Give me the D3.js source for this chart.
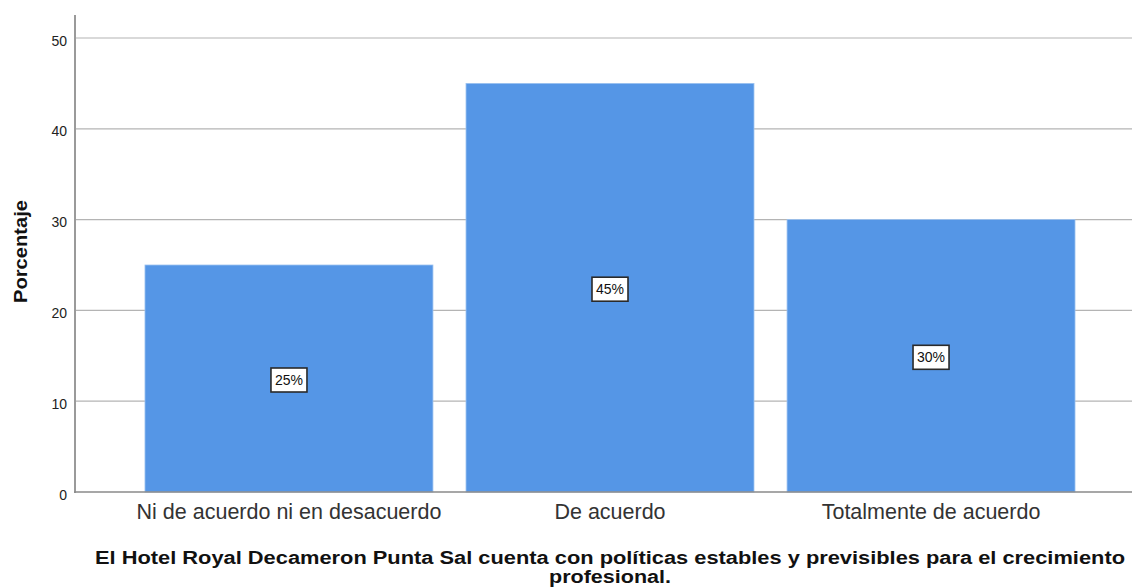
<!DOCTYPE html>
<html>
<head>
<meta charset="utf-8">
<script src="https://cdn.jsdelivr.net/npm/d3@7"></script>
<style>
  body { margin: 0; background: #fff; }
  svg { display: block; font-family: Arial, "Liberation Sans", sans-serif; }
</style>
</head>
<body>
<svg id="chart" width="1132" height="588"></svg>
<script>
// Response categories and their percentages
const categories = ["Ni de acuerdo ni en desacuerdo", "De acuerdo", "Totalmente de acuerdo"];
const values = [25, 45, 30];
const yTicks = [0, 10, 20, 30, 40, 50];
const yTitle = "Porcentaje";
const xTitleLines = [
  "El Hotel Royal Decameron Punta Sal cuenta con políticas estables y previsibles para el crecimiento",
  "profesional."
];

const svg = d3.select("#chart");
const plotLeft = 75, plotRight = 1145, plotTop = 15, plotBottom = 492, gridRight = 1132;
const font = "Arial, 'Liberation Sans', sans-serif";

const x = d3.scaleBand()
  .domain(categories)
  .range([plotLeft, plotRight])
  .paddingInner(0.103)
  .paddingOuter(0.218);

const y = d3.scaleLinear().domain([0, 50]).range([plotBottom, 38]);

// Horizontal gridlines
svg.append("g")
  .selectAll("line")
  .data(yTicks.filter(d => d > 0))
  .join("line")
  .attr("x1", plotLeft).attr("x2", gridRight)
  .attr("y1", d => y(d)).attr("y2", d => y(d))
  .attr("stroke", "#b4b4b4").attr("stroke-width", 1.2);

// Bars
svg.append("g")
  .selectAll("rect")
  .data(values)
  .join("rect")
  .attr("x", (d, i) => x(categories[i]))
  .attr("y", d => y(d))
  .attr("width", x.bandwidth())
  .attr("height", d => y(0) - y(d))
  .attr("fill", "#5596e6")
  .attr("stroke", "#9cc2f0")
  .attr("stroke-width", 0.8);

// Y axis
const yAxis = svg.append("g")
  .attr("transform", `translate(${plotLeft},0)`)
  .call(d3.axisLeft(y).tickValues(yTicks).tickSize(0).tickPadding(8));
yAxis.select(".domain").remove();
yAxis.selectAll("text").attr("font-size", 14).attr("fill", "#222")
  .attr("font-family", font).attr("dy", "0.5em");
svg.append("line")
  .attr("x1", plotLeft).attr("x2", plotLeft).attr("y1", plotTop).attr("y2", plotBottom + 1)
  .attr("stroke", "#9a9a9a").attr("stroke-width", 2);

// X axis
const xAxis = svg.append("g")
  .attr("transform", `translate(0,${plotBottom})`)
  .call(d3.axisBottom(x).tickSize(0).tickPadding(12));
xAxis.select(".domain").remove();
xAxis.selectAll("text").attr("font-size", 21.5).attr("fill", "#333")
  .attr("font-family", font);
svg.append("line")
  .attr("x1", plotLeft - 1).attr("x2", gridRight).attr("y1", plotBottom).attr("y2", plotBottom)
  .attr("stroke", "#8a8a8a").attr("stroke-width", 1.5);

// Value labels in boxes
const labels = svg.append("g")
  .selectAll("g")
  .data(values)
  .join("g")
  .attr("transform", (d, i) => `translate(${x(categories[i]) + x.bandwidth() / 2},${y(d / 2) + 1.5})`);
labels.append("rect")
  .attr("x", -18).attr("y", -12).attr("width", 36).attr("height", 24)
  .attr("fill", "#fff").attr("stroke", "#2a2a2a").attr("stroke-width", 1.6);
labels.append("text")
  .attr("text-anchor", "middle").attr("dy", "0.36em")
  .attr("font-size", 14).attr("fill", "#111")
  .text(d => d + "%");

// Y axis title
svg.append("text")
  .attr("transform", `translate(27,251.5) rotate(-90)`)
  .attr("text-anchor", "middle")
  .attr("font-size", 19).attr("font-weight", "bold").attr("fill", "#111")
  .attr("textLength", 103).attr("lengthAdjust", "spacingAndGlyphs")
  .text(yTitle);

// X axis title, two wrapped lines
const titleWidths = [1030, 122];
svg.append("g")
  .selectAll("text")
  .data(xTitleLines)
  .join("text")
  .attr("x", (d, i) => 610 - titleWidths[i] / 2)
  .attr("y", (d, i) => 564 + i * 18.5)
  .attr("font-size", 18).attr("font-weight", "bold").attr("fill", "#111")
  .attr("textLength", (d, i) => titleWidths[i]).attr("lengthAdjust", "spacingAndGlyphs")
  .text(d => d);
</script>
</body>
</html>
